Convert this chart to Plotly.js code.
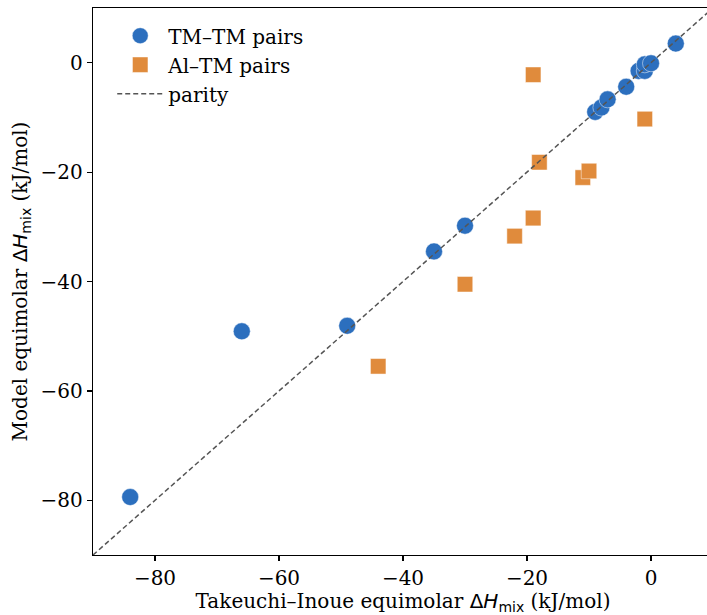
<!DOCTYPE html>
<html>
<head>
<meta charset="utf-8">
<script src="https://cdn.plot.ly/plotly-3.0.1.min.js"></script>
<style>
html, body { margin: 0; padding: 0; overflow: hidden; background: #fff; }
#chart { width: 720px; height: 615px; }
</style>
</head>
<body>
<div id="chart"></div>
<script>
// TM–TM pairs: Takeuchi–Inoue vs model
const tmX = [-84, -66, -49, -35, -30, -9, -8, -7, -4, -2, -1, -1, 0, 4];
const tmY = [-79.4, -49.1, -48.1, -34.5, -29.8, -9.0, -8.2, -6.7, -4.4, -1.5, -1.5, -0.3, -0.1, 3.5];
// Al–TM pairs
const alX = [-44, -30, -22, -19, -19, -19, -18, -11, -10, -1];
const alY = [-55.5, -40.5, -31.7, -28.4, -28.4, -2.2, -18.2, -21.0, -19.8, -10.3];
// parity line endpoints
const parity = [-90, 10];
const xTicks = [-80, -60, -40, -20, 0];
const yTicks = [-80, -60, -40, -20, 0];

const serif = 'DejaVu Serif, serif';
const mathH = '<span style="font-family:DejaVu Sans">Δ<i>H</i><sub>mix</sub></span>';

const traces = [
  {
    x: tmX, y: tmY, type: 'scatter', mode: 'markers', name: 'TM–TM pairs',
    legendgroup: 'a',
    marker: { symbol: 'circle', size: 17, color: '#2c6fbe', line: { color: 'rgba(255,255,255,0.6)', width: 0.8 } }
  },
  {
    x: alX, y: alY, type: 'scatter', mode: 'markers', name: 'Al–TM pairs',
    legendgroup: 'b',
    marker: { symbol: 'square', size: 15.5, color: '#e08b3c', line: { color: 'rgba(255,255,255,0.6)', width: 0.8 } }
  },
  {
    x: parity, y: parity, type: 'scatter', mode: 'lines', name: 'parity',
    legendgroup: 'c',
    line: { color: '#555555', width: 1.5, dash: '5px,3px' }
  }
];

const layout = {
  width: 720, height: 615,
  margin: { l: 93, r: 7, t: 8, b: 60 },
  paper_bgcolor: '#fff', plot_bgcolor: '#fff',
  font: { family: serif, size: 20, color: '#000' },
  showlegend: true,
  legend: {
    x: 0.031, y: 0.985, xanchor: 'left', yanchor: 'top',
    bgcolor: 'rgba(255,255,255,0)', borderwidth: 0,
    font: { family: serif, size: 20, color: '#000' },
    itemwidth: 46,
    tracegroupgap: 0, traceorder: 'grouped'
  },
  xaxis: {
    range: [-90, 10], tickvals: xTicks, ticks: 'outside', ticklen: 5, tickwidth: 1.2, tickcolor: '#000',
    showline: true, linecolor: '#000', linewidth: 1.3, mirror: true,
    showgrid: false, zeroline: false,
    tickfont: { family: serif, size: 20 },
    title: { text: 'Takeuchi–Inoue equimolar ' + mathH + ' (kJ/mol)', font: { family: serif, size: 20 }, standoff: 4 }
  },
  yaxis: {
    range: [-90, 10], tickvals: yTicks, ticks: 'outside', ticklen: 5, tickwidth: 1.2, tickcolor: '#000',
    showline: true, linecolor: '#000', linewidth: 1.3, mirror: true,
    showgrid: false, zeroline: false,
    tickfont: { family: serif, size: 20 },
    title: { text: 'Model equimolar ' + mathH + ' (kJ/mol)', font: { family: serif, size: 20 }, standoff: 7 }
  }
};

Plotly.newPlot('chart', traces, layout, { displayModeBar: false, staticPlot: true });
</script>
</body>
</html>
